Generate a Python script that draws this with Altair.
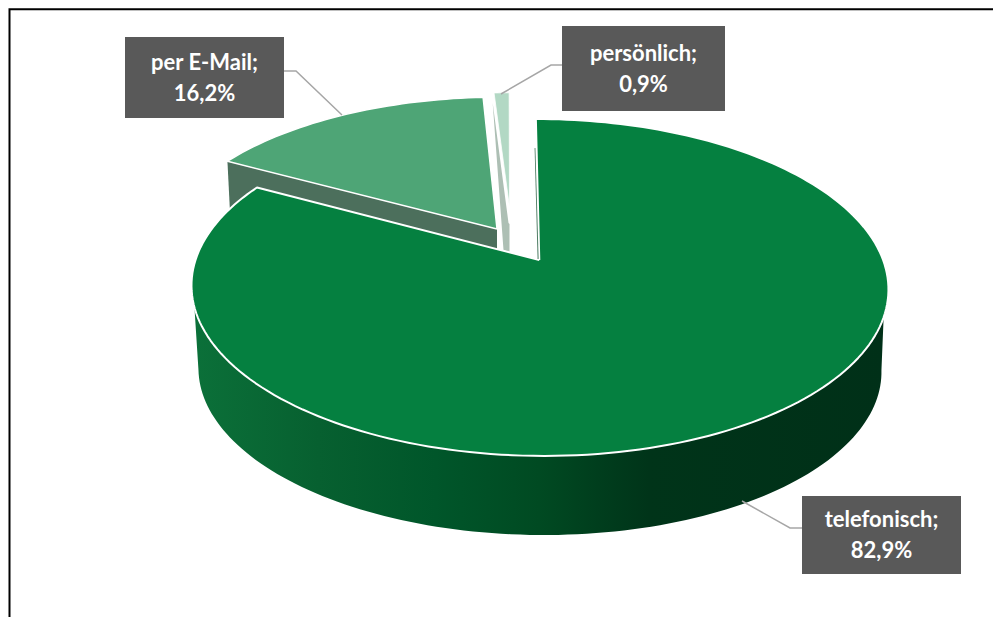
import numpy as np
import pandas as pd
import altair as alt

# ---- values ----
categories = ["telefonisch", "per E-Mail", "persönlich"]
shares = [82.9, 16.2, 0.9]

# ---- page layout ----
W, H = 985, 609
ORIGIN = 8
x_scale = alt.Scale(domain=[ORIGIN, ORIGIN + W], nice=False, zero=False)
y_scale = alt.Scale(domain=[ORIGIN + H, ORIGIN], nice=False, zero=False)
xs = alt.X("x:Q", axis=None, scale=x_scale)
ys = alt.Y("y:Q", axis=None, scale=y_scale)

A, B, K = 343.8, 164.0, 0.163
DEPTH_SCALE = 0.98


def pt(theta, apex, sx=1.0, sy=1.0, c=0.0):
    t = np.radians(theta)
    u, v = np.sin(t), np.cos(t)
    d = 1 + K * v
    return apex[0] + sx * (A * u - c * v) / d, apex[1] - sy * B * v / d


def arc(t0, t1, apex, sx=1.0, sy=1.0, c=0.0, n=90):
    return [pt(t, apex, sx, sy, c) for t in np.linspace(t0, t1, n)]


def poly(points, fill, stroke=None, sw=0):
    pts = list(points) + [points[0]]
    df = pd.DataFrame({"x": [p[0] for p in pts], "y": [p[1] for p in pts], "i": range(len(pts))})
    props = dict(fill=fill, strokeJoin="round")
    if stroke:
        props.update(stroke=stroke, strokeWidth=sw)
    else:
        props.update(strokeWidth=0)
    return alt.Chart(df).mark_line(**props).encode(x=xs, y=ys, order="i:Q")


def path(points, color, sw):
    df = pd.DataFrame({"x": [p[0] for p in points], "y": [p[1] for p in points], "i": range(len(points))})
    return alt.Chart(df).mark_line(color=color, strokeWidth=sw).encode(x=xs, y=ys, order="i:Q")


# slice angles, clockwise from the top, derived from the shares
tele_end = shares[0] * 3.6
mail_end = tele_end + shares[1] * 3.6

APEX_TELE = (539.3, 260.0)
APEX_TELE_LOW = (539.3, 343.0)
APEX_MAIL = (497.0, 229.0)
APEX_PERS = (509.5, 207.0)

tele_top = [APEX_TELE] + arc(0, tele_end, APEX_TELE, c=4.0, n=200)
mail_top = [APEX_MAIL] + arc(tele_end, mail_end, APEX_MAIL, sx=0.965, sy=0.935, c=-2.7, n=40)
pers_top = [APEX_PERS] + arc(mail_end, 360, APEX_PERS, sx=0.9, sy=0.81, c=0.5, n=6)

# outer wall of the large slice
wall_front = arc(109.3, 254.0, APEX_TELE, c=4.0, n=120) + arc(
    260.6, 99.4, APEX_TELE_LOW, sx=DEPTH_SCALE, sy=DEPTH_SCALE, c=4.0, n=120
)
wall_grad = alt.LinearGradient(
    gradient="linear", x1=0, x2=1, y1=0, y2=0,
    stops=[
        alt.GradientStop(offset=0.0, color="#0b7039"),
        alt.GradientStop(offset=0.18, color="#076030"),
        alt.GradientStop(offset=0.35, color="#00562a"),
        alt.GradientStop(offset=0.50, color="#004a22"),
        alt.GradientStop(offset=0.57, color="#00401e"),
        alt.GradientStop(offset=0.66, color="#003419"),
        alt.GradientStop(offset=1.0, color="#003018"),
    ],
)

mail_corner = mail_top[1]
mail_wall = [mail_corner, APEX_MAIL, (497.0, 300.0), (231.0, 232.0)]
pers_wall = [(492.7, 103.0), (508.5, 223.0), (509.5, 224.0), (509.5, 252.0), (503.5, 250.0)]
tele_sliver = [(534.6, 148.0), (535.4, 148.0), (538.6, 259.0), (537.6, 259.0)]

leader_color = "#a6a6a6"
leaders = [
    [(284, 71), (296, 71), (342, 115)],
    [(562, 65), (551, 65), (501, 94)],
    [(802, 528), (790, 528), (742, 501)],
]

boxes = pd.DataFrame({
    "x": [802, 125, 562], "x2": [961, 284, 725],
    "y": [496, 37, 26], "y2": [574, 118, 111],
    "cat": categories, "share": shares,
})
boxes["line1"] = boxes["cat"] + ";"
boxes["line2"] = boxes["share"].map(lambda s: f"{s:.1f}".replace(".", ",") + "%")
boxes["xc"] = (boxes["x"] + boxes["x2"]) / 2
boxes["yc"] = (boxes["y"] + boxes["y2"]) / 2

rects = alt.Chart(boxes).mark_rect(color="#595959").encode(x=xs, x2="x2:Q", y=ys, y2="y2:Q")


def labels(field, dy):
    return alt.Chart(boxes).mark_text(
        font="Lato", fontWeight="bold", fontSize=22, color="white", dy=dy, baseline="middle", align="center"
    ).encode(x=alt.X("xc:Q", scale=x_scale, axis=None), y=alt.Y("yc:Q", scale=y_scale, axis=None), text=f"{field}:N")


layers = [
    poly(mail_wall, "#4c6f5c"),
    poly(pers_wall, "#adbfb4"),
    poly(wall_front, wall_grad),
    poly(mail_top, "#4ea576", "#ffffff", 1.5),
    poly(pers_top, "#b2d8c4", "#ffffff", 0.75),
    poly(tele_top, "#058040", "#ffffff", 2),
    poly(tele_sliver, "#4a7a60"),
]
layers += [path(p, leader_color, 1.5) for p in leaders]
layers += [rects, labels("line1", -15), labels("line2", 16)]
layers.append(path([(9.5, 617), (9.5, 9.3), (993, 9.3)], "#000000", 2))

chart = (
    alt.layer(*layers)
    .properties(width=W, height=H, padding=0, background="white", autosize=alt.AutoSizeParams(type="none"))
    .configure_view(stroke=None)
)
chart.save("out.html", embed_options={"renderer": "svg", "actions": False})
